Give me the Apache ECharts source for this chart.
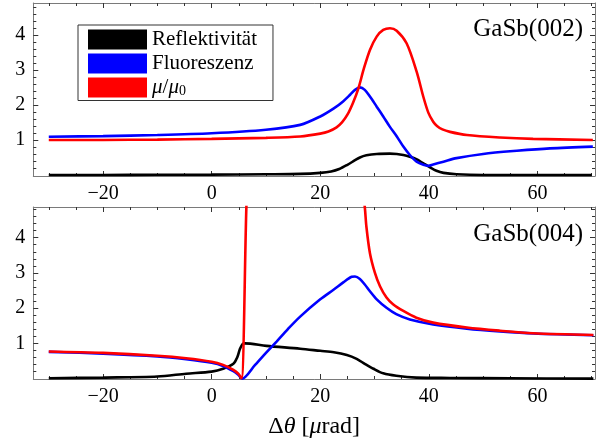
<!DOCTYPE html>
<html>
<head>
<meta charset="utf-8">
<script src="https://cdn.jsdelivr.net/npm/echarts@6/dist/echarts.min.js"></script>
<style>
  html, body { margin: 0; padding: 0; background: #fff; }
  #chart { width: 597px; height: 442px; }
</style>
</head>
<body>
<div id="chart"></div>
<script>
// Tick positions and labels
const xTicks = [-20, 0, 20, 40, 60];
const xMinorTicks = [-30, -25, -15, -10, -5, 5, 10, 15, 25, 30, 35, 45, 50, 55, 65, 70];
const yTicks = [1, 2, 3, 4];
const yMinorTicks = [0.2, 0.4, 0.6, 0.8, 1.2, 1.4, 1.6, 1.8, 2.2, 2.4, 2.6, 2.8,
                     3.2, 3.4, 3.6, 3.8, 4.2, 4.4, 4.6, 4.8];

const seriesNames = ['Reflektivität', 'Fluoreszenz', 'μ/μ0'];
const panelLabels = ['GaSb(002)', 'GaSb(004)'];

// GaSb(002)
const refl002X = [-30, -20, -10, 0, 10, 16.3, 20, 22, 23.5, 25, 26.4, 27.3, 28.5, 30.4, 32.8,
                  34.1, 35.3, 36.5, 37.7, 39.0, 40.2, 41.4, 42.7, 45.1, 50, 60, 70];
const refl002Y = [0.0, 0.0, 0.005, 0.01, 0.02, 0.03, 0.06, 0.1, 0.17, 0.29, 0.42, 0.5, 0.56, 0.6, 0.61,
                  0.6, 0.57, 0.52, 0.45, 0.33, 0.22, 0.12, 0.06, 0.02, 0.0, 0.0, 0.0];

const fluo002X = [-30, -20, -10, 0, 10, 16.3, 20, 22.5, 24.2, 25.5, 26.4, 27.3, 28.2, 29.15, 30.4,
                  31.6, 32.8, 34.1, 35.3, 36.5, 37.75, 39.0, 39.9, 40.8, 42.7, 45.1, 50, 56.2, 62.3, 70.2];
const fluo002Y = [1.09, 1.11, 1.14, 1.19, 1.29, 1.43, 1.67, 1.9, 2.1, 2.29, 2.43, 2.5, 2.43, 2.24, 1.95,
                  1.67, 1.38, 1.1, 0.81, 0.57, 0.38, 0.29, 0.26, 0.3, 0.38, 0.48, 0.6, 0.69, 0.76, 0.81];

const mu002X = [-30, -20, -10, 0, 10, 16.3, 20, 21.5, 23, 24, 25, 26, 27, 28, 29.15, 30.39,
                31.6, 32.84, 34.07, 35.9, 37.75, 38.97, 39.9, 40.8, 41.5, 42.5, 43.9, 47.0, 53.1, 59.2, 70.2];
const mu002Y = [1.0, 1.0, 1.01, 1.03, 1.06, 1.1, 1.18, 1.24, 1.36, 1.5, 1.72, 2.05, 2.46, 3.02, 3.57, 3.95,
                4.14, 4.19, 4.12, 3.76, 2.95, 2.24, 1.78, 1.52, 1.4, 1.3, 1.23, 1.14, 1.07, 1.03, 1.0];

// GaSb(004)
const refl004X = [-30, -20, -10, -4.7, 0, 2.1, 4.0, 4.7, 5.2, 5.7, 6.1, 10.1, 16.3, 20, 22.5, 24.9,
                  26.7, 28.2, 29.8, 31.6, 34.0, 37.7, 43.9, 55, 70.3];
const refl004Y = [0.01, 0.03, 0.06, 0.14, 0.2, 0.28, 0.42, 0.6, 0.84, 0.98, 1.0, 0.93, 0.85, 0.79, 0.75, 0.67,
                  0.56, 0.42, 0.28, 0.15, 0.08, 0.03, 0.02, 0.01, 0.0];

const fluo004X = [-30, -20, -10, -4.7, 0, 2.1, 4.0, 4.9, 5.6, 8, 10, 12, 14, 16.3, 20, 22.5, 24.3,
                  25.8, 26.4, 27.3, 28.2, 29.15, 30.4, 32.2, 34.0, 36.5, 40.8, 47, 53.1, 59.2, 70.3];
const fluo004Y = [0.76, 0.71, 0.63, 0.55, 0.45, 0.36, 0.21, 0.11, 0.0, 0.39, 0.73, 1.06, 1.4, 1.76, 2.25, 2.53, 2.74,
                  2.89, 2.9, 2.83, 2.67, 2.48, 2.25, 2.01, 1.83, 1.68, 1.54, 1.42, 1.34, 1.28, 1.23];

const mu004X = [-30, -20, -10, -4.7, 0, 2.1, 4.0, 4.9, 5.5, 6.4, 6.8, 10, 15, 20, 25, 27.6, 28.2,
                28.5, 29.15, 30.07, 31.0, 32.2, 33.4, 35.3, 37.7, 40.8, 47.0, 53.1, 59.2, 70.3];
const mu004Y = [0.77, 0.73, 0.65, 0.58, 0.48, 0.39, 0.25, 0.14, 0.01, 4.9, 6.2, 11, 16, 14, 8, 5.6, 4.87,
                4.31, 3.56, 3.0, 2.62, 2.3, 2.11, 1.92, 1.73, 1.59, 1.45, 1.36, 1.29, 1.24];

const panels = [
  { refl: [refl002X, refl002Y], fluo: [fluo002X, fluo002Y], mu: [mu002X, mu002Y], yMin: -0.03, yMax: 4.91 },
  { refl: [refl004X, refl004Y], fluo: [fluo004X, fluo004Y], mu: [mu004X, mu004Y], yMin: -0.01, yMax: 4.87 }
];

const FONT = 'Liberation Serif';
const FRAME = '#7a7a7a';
const TICK = '#333';
const X_MIN = -32.85, X_MAX = 70.6;
const colors = ['#000000', '#0000ff', '#ff0000'];

const zip = (xs, ys) => xs.map((x, i) => [x, ys[i]]);
const fmtX = v => (v < 0 ? '\u2212' + (-v) : String(v));

const grids = [
  { left: 33.3, right: 2, top: 3, height: 173 },
  { left: 33.3, right: 2, top: 207, height: 172 }
];

const xAxes = [], yAxes = [], series = [];

panels.forEach((p, g) => {
  const base = {
    type: 'value', gridIndex: g, splitLine: { show: false }, axisPointer: { show: false }
  };
  // x: bottom major (with labels), bottom minor, top major, top minor
  const xBase = Object.assign({}, base, { min: X_MIN, max: X_MAX });
  const xMain = xAxes.length;
  xAxes.push(Object.assign({}, xBase, {
    position: 'bottom',
    axisLine: { show: true, onZero: false, lineStyle: { color: FRAME, width: 1 } },
    axisTick: { show: true, inside: true, length: 5, customValues: xTicks, lineStyle: { color: TICK } },
    axisLabel: { show: true, customValues: xTicks, formatter: fmtX, margin: 8,
                 fontFamily: FONT, fontSize: 20, color: '#000' },
    name: g === 1 ? '{n|\u0394}{i|\u03b8}{n| [}{i|\u03bc}{n|rad]}' : '',
    nameLocation: 'middle', nameGap: 36,
    nameTextStyle: {
      rich: {
        n: { fontFamily: FONT, fontSize: 24, color: '#000' },
        i: { fontFamily: FONT, fontSize: 24, fontStyle: 'italic', color: '#000' }
      }
    }
  }));
  xAxes.push(Object.assign({}, xBase, {
    position: 'bottom', axisLine: { show: false, onZero: false },
    axisTick: { show: true, inside: true, length: 3, customValues: xMinorTicks, lineStyle: { color: TICK } },
    axisLabel: { show: false }
  }));
  xAxes.push(Object.assign({}, xBase, {
    position: 'top',
    axisLine: { show: true, onZero: false, lineStyle: { color: FRAME, width: 1 } },
    axisTick: { show: true, inside: true, length: 5, customValues: xTicks, lineStyle: { color: TICK } },
    axisLabel: { show: false }
  }));
  xAxes.push(Object.assign({}, xBase, {
    position: 'top', axisLine: { show: false, onZero: false },
    axisTick: { show: true, inside: true, length: 3, customValues: xMinorTicks, lineStyle: { color: TICK } },
    axisLabel: { show: false }
  }));

  // y: left major (with labels), left minor, right major, right minor
  const yBase = Object.assign({}, base, { min: p.yMin, max: p.yMax });
  const yMain = yAxes.length;
  yAxes.push(Object.assign({}, yBase, {
    position: 'left',
    axisLine: { show: true, onZero: false, lineStyle: { color: FRAME, width: 1 } },
    axisTick: { show: true, inside: true, length: 5, customValues: yTicks, lineStyle: { color: TICK } },
    axisLabel: { show: true, customValues: yTicks, margin: 8,
                 fontFamily: FONT, fontSize: 20, color: '#000' }
  }));
  yAxes.push(Object.assign({}, yBase, {
    position: 'left', axisLine: { show: false, onZero: false },
    axisTick: { show: true, inside: true, length: 3, customValues: yMinorTicks, lineStyle: { color: TICK } },
    axisLabel: { show: false }
  }));
  yAxes.push(Object.assign({}, yBase, {
    position: 'right',
    axisLine: { show: true, onZero: false, lineStyle: { color: FRAME, width: 1 } },
    axisTick: { show: true, inside: true, length: 5, customValues: yTicks, lineStyle: { color: TICK } },
    axisLabel: { show: false }
  }));
  yAxes.push(Object.assign({}, yBase, {
    position: 'right', axisLine: { show: false, onZero: false },
    axisTick: { show: true, inside: true, length: 3, customValues: yMinorTicks, lineStyle: { color: TICK } },
    axisLabel: { show: false }
  }));

  [p.refl, p.fluo, p.mu].forEach((d, k) => {
    series.push({
      type: 'line', name: seriesNames[k],
      xAxisIndex: xMain, yAxisIndex: yMain,
      data: zip(d[0], d[1]),
      showSymbol: false, symbol: 'none',
      smooth: 0.3,
      clip: true,
      color: colors[k],
      lineStyle: { color: colors[k], width: 2.6 },
      z: 2 + k
    });
  });
});

const chart = echarts.init(document.getElementById('chart'), null, { renderer: 'canvas' });
chart.setOption({
  animation: false,
  backgroundColor: '#fff',
  grid: grids,
  xAxis: xAxes,
  yAxis: yAxes,
  series: series,
  legend: {
    data: seriesNames,
    orient: 'vertical', left: 78, top: 25,
    icon: 'rect', itemWidth: 59, itemHeight: 20, itemGap: 3,
    padding: [4, 16, 2, 10],
    borderColor: '#333', borderWidth: 1, backgroundColor: '#fff',
    selectedMode: false,
    formatter: name => (name === seriesNames[2] ? '{i|\u03bc}{n|/}{i|\u03bc}{s|0}' : '{n|' + name + '}'),
    textStyle: {
      fontFamily: FONT, fontSize: 21, color: '#000',
      rich: {
        n: { fontFamily: FONT, fontSize: 21, color: '#000', lineHeight: 22 },
        i: { fontFamily: FONT, fontSize: 21, fontStyle: 'italic', color: '#000', lineHeight: 22 },
        s: { fontFamily: FONT, fontSize: 14, color: '#000', verticalAlign: 'bottom', lineHeight: 14 }
      }
    }
  },
  graphic: [
    { type: 'text', right: 14, top: 17, style: { text: panelLabels[0], font: '25px "Liberation Serif"', fill: '#000' } },
    { type: 'text', right: 14, top: 222, style: { text: panelLabels[1], font: '25px "Liberation Serif"', fill: '#000' } }
  ]
});
</script>
</body>
</html>
